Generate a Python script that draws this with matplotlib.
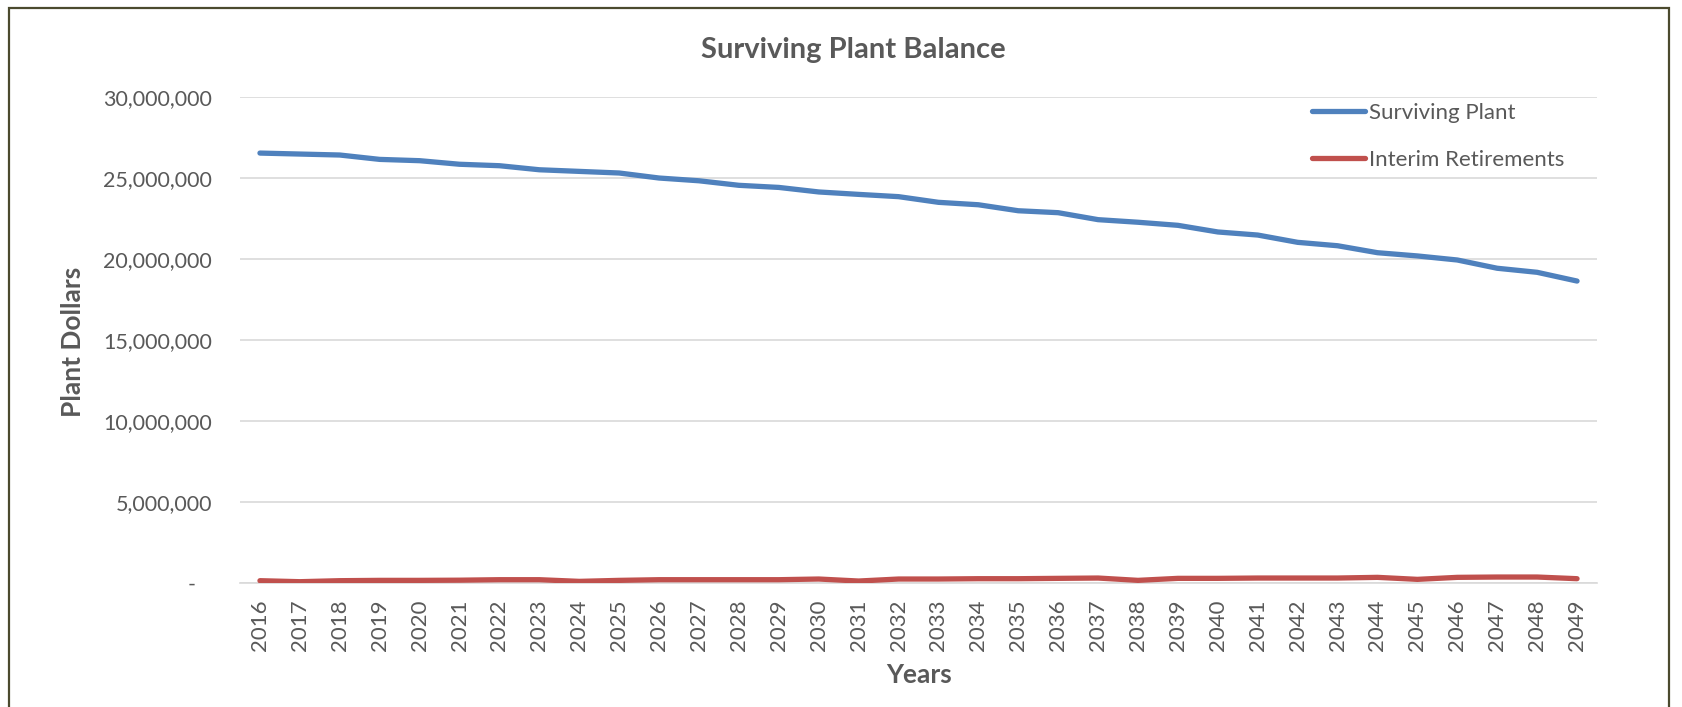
import matplotlib
matplotlib.use('Agg')
import matplotlib.pyplot as plt
from matplotlib.patches import Rectangle
from matplotlib.ticker import FuncFormatter

plt.rcParams['font.family'] = ['Lato', 'DejaVu Sans']

# data
years = list(range(2016, 2050))
surviving_plant = [
    26.52, 26.46, 26.40, 26.13, 26.05, 25.83, 25.74, 25.49, 25.39, 25.29,
    24.98, 24.81, 24.53, 24.40, 24.12, 23.97, 23.83, 23.48, 23.33, 22.96,
    22.84, 22.41, 22.25, 22.06, 21.65, 21.46, 21.01, 20.80, 20.37, 20.17,
    19.92, 19.41, 19.16, 18.62,
]
interim_retirements = [
    124, 62, 124, 144, 144, 155, 185, 185, 82, 144,
    185, 185, 185, 185, 227, 103, 227, 227, 247, 247,
    268, 288, 144, 268, 268, 288, 288, 288, 330, 206,
    330, 350, 350, 247,
]
surviving_plant = [v * 1e6 for v in surviving_plant]
interim_retirements = [v * 1e3 for v in interim_retirements]

W, H = 1683, 707
fig = plt.figure(figsize=(W / 100, H / 100), dpi=100)
ax = fig.add_axes([240 / W, 1 - 582.7 / H, 1357 / W, (582.7 - 96.7) / H])

txt = '#595959'
x = list(range(len(years)))
ax.plot(x, surviving_plant, color='#4F81BD', lw=3.8, solid_capstyle='round',
        solid_joinstyle='round', label='Surviving Plant', zorder=3)
ax.plot(x, interim_retirements, color='#C0504D', lw=3.8, solid_capstyle='round',
        solid_joinstyle='round', label='Interim Retirements', zorder=3)

ax.set_xlim(-0.5, len(years) - 0.5)
ax.set_ylim(0, 30e6)
ax.set_yticks(range(0, 30000001, 5000000))
ax.yaxis.set_major_formatter(FuncFormatter(lambda v, p: '-   ' if v == 0 else f'{int(v):,}'))
ax.set_xticks(x)
ax.set_xticklabels([str(y) for y in years], rotation=90)
ax.grid(axis='y', color='#D9D9D9', lw=1.2)
ax.set_axisbelow(True)
for s in ['top', 'right', 'left']:
    ax.spines[s].set_visible(False)
ax.spines['bottom'].set_color('#D9D9D9')
ax.spines['bottom'].set_linewidth(1.2)
ax.tick_params(axis='both', length=0, labelcolor=txt)
ax.tick_params(axis='y', pad=20, labelsize=15.5)
ax.tick_params(axis='x', pad=12, labelsize=16)

fig.text(853 / W, 1 - 50 / H, 'Surviving Plant Balance', ha='center', va='center',
         fontsize=21, fontweight='bold', color=txt)
fig.text(919 / W, 1 - 675 / H, 'Years', ha='center', va='center',
         fontsize=19, fontweight='bold', color=txt)
fig.text(73 / W, 1 - 342 / H, 'Plant Dollars', ha='center', va='center', rotation=90,
         fontsize=19, fontweight='bold', color=txt)

leg = ax.legend(loc='upper left', bbox_to_anchor=(1312 / W, 1 - 103 / H),
                bbox_transform=fig.transFigure, frameon=False, fontsize=16,
                handlelength=2.4, handletextpad=0.15, labelspacing=1.2,
                borderpad=0, borderaxespad=0)
for t in leg.get_texts():
    t.set_color(txt)

fig.patches.append(Rectangle((9 / W, -0.05), (1669 - 9) / W, 1.05 - 8 / H,
                             transform=fig.transFigure, fill=False,
                             edgecolor='#4B4A2E', lw=1.6))

fig.savefig('out.png', dpi=100)
